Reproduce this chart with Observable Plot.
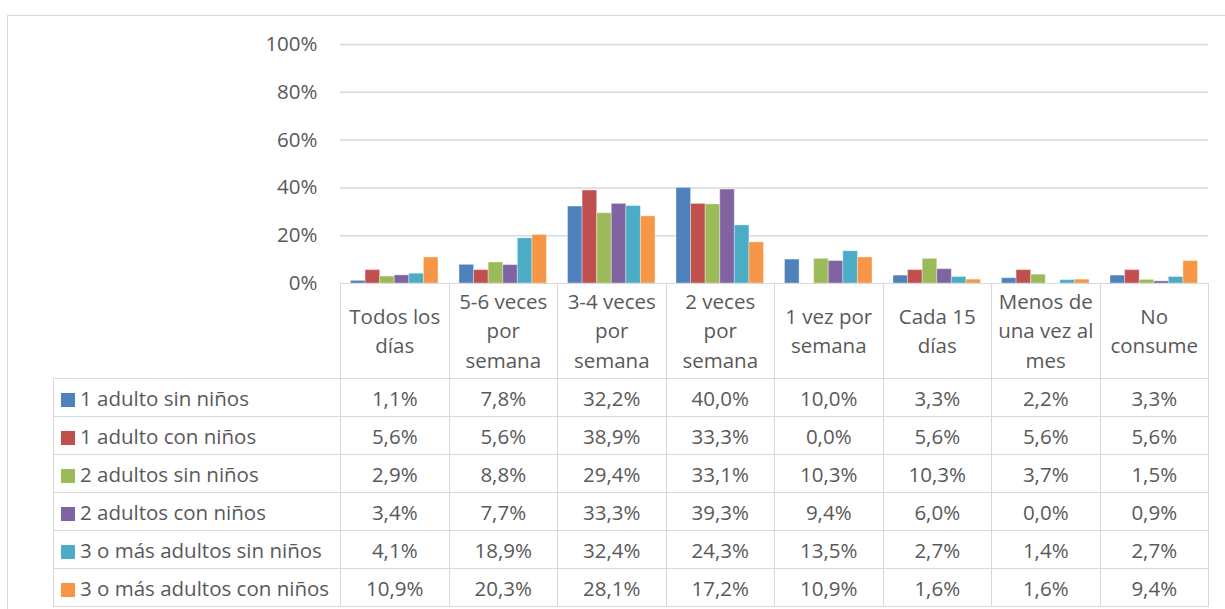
<!DOCTYPE html>
<html>
<head>
<meta charset="utf-8">
<script src="https://cdn.jsdelivr.net/npm/d3@7"></script>
<script src="https://cdn.jsdelivr.net/npm/@observablehq/plot@0.6"></script>
<style>
  html, body { margin: 0; padding: 0; background: #fff; width: 1225px; height: 609px; overflow: hidden; }
  body { position: relative; font-family: "Open Sans", sans-serif; color: #595959; }
  #frame { position: absolute; left: 7px; top: 15px; right: -10px; bottom: -10px; border: 1px solid #d9d9d9; }
  #chart { position: absolute; left: 0; top: 0; }
  #tbl { position: absolute; left: 53px; top: 283px; border-collapse: collapse; table-layout: fixed; font-size: 20.5px; color: #595959; }
  #tbl td { border: 1px solid #d9d9d9; padding: 0; text-align: center; vertical-align: middle; white-space: nowrap; }
  #tbl tr.head td { height: 94px; line-height: 29.5px; }
  #tbl tr.head td.blank { border: none; border-right: 1px solid #d9d9d9; }
  #tbl tr.row td { height: 37px; }
  #tbl td.lab { text-align: left; padding-left: 7px; }
  .sw { display: inline-block; width: 14px; height: 14px; margin-right: 5px; vertical-align: -1px; }
</style>
</head>
<body>
<div id="frame"></div>
<div id="chart"></div>
<table id="tbl"></table>
<script>
const categories = ["Todos los días", "5-6 veces por semana", "3-4 veces por semana", "2 veces por semana", "1 vez por semana", "Cada 15 días", "Menos de una vez al mes", "No consume"];
const categoryLines = [["Todos los", "días"], ["5-6 veces", "por", "semana"], ["3-4 veces", "por", "semana"], ["2 veces", "por", "semana"], ["1 vez por", "semana"], ["Cada 15", "días"], ["Menos de", "una vez al", "mes"], ["No", "consume"]];
const series = ["1 adulto sin niños", "1 adulto con niños", "2 adultos sin niños", "2 adultos con niños", "3 o más adultos sin niños", "3 o más adultos con niños"];
const colors = ["#4F81BD", "#C0504D", "#9BBB59", "#8064A2", "#4BACC6", "#F79646"];
const adulto1SinNinos = [1.1, 7.8, 32.2, 40.0, 10.0, 3.3, 2.2, 3.3];
const adulto1ConNinos = [5.6, 5.6, 38.9, 33.3, 0.0, 5.6, 5.6, 5.6];
const adultos2SinNinos = [2.9, 8.8, 29.4, 33.1, 10.3, 10.3, 3.7, 1.5];
const adultos2ConNinos = [3.4, 7.7, 33.3, 39.3, 9.4, 6.0, 0.0, 0.9];
const adultos3SinNinos = [4.1, 18.9, 32.4, 24.3, 13.5, 2.7, 1.4, 2.7];
const adultos3ConNinos = [10.9, 20.3, 28.1, 17.2, 10.9, 1.6, 1.6, 9.4];
const yTicks = [0, 20, 40, 60, 80, 100];

const seriesValues = [adulto1SinNinos, adulto1ConNinos, adultos2SinNinos, adultos2ConNinos, adultos3SinNinos, adultos3ConNinos];
const data = [];
series.forEach((s, i) => categories.forEach((c, j) => data.push({category: c, series: s, value: seriesValues[i][j]})));

const fmt = v => v.toFixed(1).replace(".", ",") + "%";

const chart = Plot.plot({
  width: 1225,
  height: 284,
  marginLeft: 340,
  marginRight: 17,
  marginTop: 44,
  marginBottom: 1,
  style: {fontFamily: "Open Sans", fontSize: "20.5px", color: "#595959", background: "transparent", overflow: "visible"},
  fx: {domain: categories, padding: 0, round: false, axis: null, label: null},
  x: {domain: series, paddingInner: 0, paddingOuter: 0.72, round: false, axis: null, label: null},
  y: {domain: [0, 100], ticks: yTicks, tickFormat: d => d + "%", tickSize: 0, tickPadding: 23, label: null},
  color: {domain: series, range: colors},
  marks: [
    Plot.ruleY(yTicks.filter(d => d > 0), {stroke: "#d9d9d9", strokeWidth: 1.5}),
    Plot.barY(data, {fx: "category", x: "series", y: "value", fill: "series", stroke: "white", strokeOpacity: 0.35, strokeWidth: 1, inset: 0})
  ]
});
document.getElementById("chart").appendChild(chart);

// Data table (legend + values)
const tbl = document.getElementById("tbl");
const colgroup = document.createElement("colgroup");
const c0 = document.createElement("col"); c0.style.width = "287px"; colgroup.appendChild(c0);
categories.forEach(() => { const c = document.createElement("col"); c.style.width = "108.5px"; colgroup.appendChild(c); });
tbl.appendChild(colgroup);

const head = document.createElement("tr");
head.className = "head";
const blank = document.createElement("td"); blank.className = "blank"; head.appendChild(blank);
categoryLines.forEach(lines => {
  const td = document.createElement("td");
  td.innerHTML = lines.join("<br>");
  head.appendChild(td);
});
tbl.appendChild(head);

series.forEach((s, i) => {
  const tr = document.createElement("tr");
  tr.className = "row";
  const lab = document.createElement("td");
  lab.className = "lab";
  const sw = document.createElement("span");
  sw.className = "sw";
  sw.style.background = colors[i];
  lab.appendChild(sw);
  lab.appendChild(document.createTextNode(s));
  tr.appendChild(lab);
  seriesValues[i].forEach(v => {
    const td = document.createElement("td");
    td.textContent = fmt(v);
    tr.appendChild(td);
  });
  tbl.appendChild(tr);
});
</script>
</body>
</html>
